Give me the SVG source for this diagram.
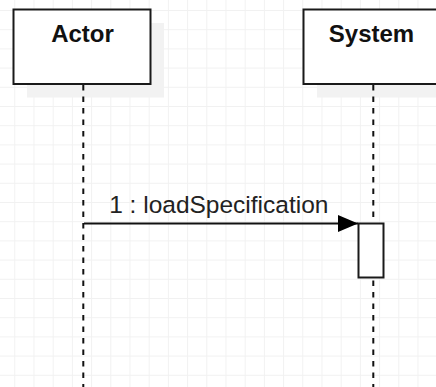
<svg xmlns="http://www.w3.org/2000/svg" width="436" height="387" viewBox="0 0 436 387">
  <style>
    .box { fill: #ffffff; stroke: #1a1a1a; stroke-width: 2; }
    .shadow { fill: #f2f2f2; }
    .life { stroke: #111111; stroke-width: 2; stroke-dasharray: 5.5 6; fill: none; }
    .title { font-family: "Liberation Sans", Arial, sans-serif; font-weight: bold; font-size: 24px; fill: #111111; text-anchor: middle; }
    .msg { font-family: "Liberation Sans", Arial, sans-serif; font-size: 24.5px; fill: #222222; text-anchor: middle; }
    .line { stroke: #111111; stroke-width: 2; fill: none; }
  </style>
  <defs>
    <pattern id="grid" patternUnits="userSpaceOnUse" x="14.3" y="10" width="19.2" height="19.2">
      <path d="M0.5 0 V19.2 M0 0.5 H19.2" stroke="#f1f1f1" stroke-width="1" fill="none"/>
    </pattern>
    <marker id="arrow" viewBox="0 0 20 17" refX="20" refY="8.5" markerWidth="20" markerHeight="17" markerUnits="userSpaceOnUse" orient="auto">
      <path d="M0 0 L20 8.5 L0 17 Z" fill="#000000"/>
    </marker>
  </defs>

  <rect width="436" height="387" fill="#ffffff"/>
  <rect width="436" height="387" fill="url(#grid)"/>

  <g id="actor">
    <rect class="shadow" x="27" y="23" width="137" height="74.5"/>
    <rect class="box" x="13.5" y="9.5" width="137" height="74.5"/>
    <text class="title" x="82.5" y="42">Actor</text>
    <line class="life" x1="83.3" y1="85" x2="83.3" y2="387"/>
  </g>

  <g id="system">
    <rect class="shadow" x="317" y="23" width="137" height="74.5"/>
    <rect class="box" x="303.5" y="9.5" width="137" height="74.5"/>
    <text class="title" x="371.5" y="42">System</text>
    <line class="life" x1="373.3" y1="85" x2="373.3" y2="387"/>
    <rect class="box" x="358.5" y="223.5" width="25" height="54"/>
  </g>

  <g id="connectors">
    <line class="line" x1="84" y1="223.5" x2="358" y2="223.5" marker-end="url(#arrow)"/>
    <text class="msg" x="218.8" y="213">1 : loadSpecification</text>
  </g>
</svg>
